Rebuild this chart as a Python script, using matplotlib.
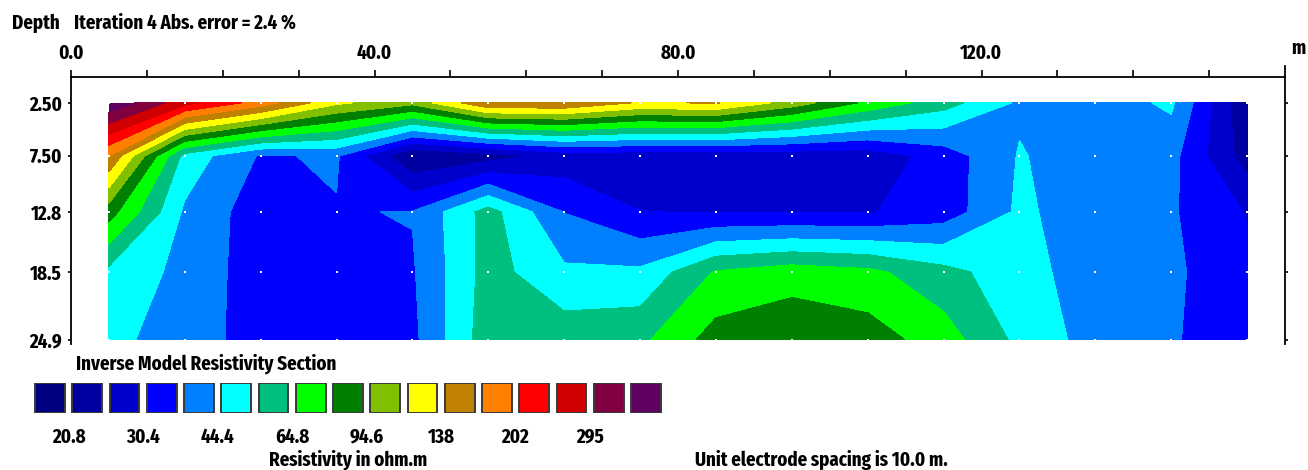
import numpy as np
import matplotlib
matplotlib.use("Agg")
import matplotlib.pyplot as plt
import matplotlib.font_manager as fm

# ---------------- data ----------------
x_pos = [5, 15, 25, 35, 45, 55, 65, 75, 85, 95, 105, 115, 125, 135, 145, 155]
depths = [2.5, 7.5, 12.8, 18.5, 24.9]
depth_labels = ["2.50", "7.50", "12.8", "18.5", "24.9"]

res_2_5 = [420, 260, 185, 118, 100, 165, 165, 135, 140, 105, 75, 58, 43, 40, 46, 21]
res_7_5 = [168, 50, 36, 37.5, 21, 23, 27, 27, 27, 27, 27, 33, 45, 40, 39, 23]
res_12_8 = [85, 43, 33, 36.3, 37, 58, 36.5, 30.5, 30, 30, 30, 33, 46, 40, 37.5, 30]
res_18_5 = [51, 42, 33, 33, 36, 58, 46, 46, 66, 72, 68, 57, 48, 40, 38, 32]
res_24_9 = [47, 40, 34, 33, 35, 60, 60, 62, 85, 90, 86, 71, 51, 41, 37.5, 32]

bounds = [20.8, 25.1, 30.4, 36.7, 44.4, 53.6, 64.8, 78.3, 94.6, 114, 138, 167, 202, 244, 295, 357]
bound_labels = ["20.8", "30.4", "44.4", "64.8", "94.6", "138", "202", "295"]
colors = ['#000080', '#0000A0', '#0000CC', '#0000FF', '#0080FF', '#00FFFF',
          '#00C080', '#00FF00', '#008000', '#80C000', '#FFFF00', '#C08000',
          '#FF8000', '#FF0000', '#D00000', '#800040', '#600060']

top_ticks = list(range(0, 160, 10))
top_labels = {0: "0.0", 40: "40.0", 80: "80.0", 120: "120.0"}
legend_title = "Inverse Model Resistivity Section"

# ---------------- font (narrowest bold-ish sans available) ----------------
def score(f):
    fn = f.fname.lower()
    s = 0
    if 'extracondensed' in fn:
        s += 40
    elif 'semicondensed' in fn:
        s += 20
    elif 'condensed' in fn or 'narrow' in fn:
        s += 30
    else:
        return -1
    if 'italic' in fn or 'oblique' in fn:
        return -1
    if fn.endswith('bold.ttf') or 'semibold' in fn or fn.endswith('-bold.ttf'):
        s += 5
    if 'black' in fn or 'extrabold' in fn or 'light' in fn or 'thin' in fn:
        s -= 10
    if 'mono' in fn:
        return -1
    return s

cands = sorted(fm.fontManager.ttflist, key=score, reverse=True)
if cands and score(cands[0]) > 0:
    FP = fm.FontProperties(fname=cands[0].fname)
else:
    FP = fm.FontProperties(family='DejaVu Sans Mono', weight='bold')

W, H = 1308, 470
fig = plt.figure(figsize=(W / 100, H / 100), dpi=100)

# choose size so the legend title spans about the same width as in the reference
renderer = fig.canvas.get_renderer()
probe = fig.text(0, 0, legend_title, fontproperties=FP, fontsize=10)
wpx = probe.get_window_extent(renderer).width
probe.remove()
FS = min(10 * 262 / wpx, 15.5)
FP.set_size(FS)

ax = fig.add_axes([71 / W, 1 - 344 / H, (1285 - 71) / W, (344 - 76.5) / H])
ax.set_xlim(0, 160)
ax.set_ylim(25.3, 0)

grid = np.array([res_2_5, res_7_5, res_12_8, res_18_5, res_24_9], dtype=float)
lev = np.log10([1.0] + bounds + [1e5])
ax.contourf(x_pos, depths, np.log10(grid), levels=lev, colors=colors, antialiased=False)

XX, ZZ = np.meshgrid(x_pos, depths)
ax.scatter(XX.ravel(), ZZ.ravel(), s=1.5, c='white', marker='s', linewidths=0, zorder=3)

ax.spines['bottom'].set_visible(False)
for s in ['top', 'left', 'right']:
    ax.spines[s].set_linewidth(1.3)
ax.spines['right'].set_bounds(25.3, -0.95)

ax.xaxis.set_ticks_position('top')
ax.set_xticks(top_ticks)
ax.set_xticklabels([top_labels.get(t, "") for t in top_ticks], fontproperties=FP)
ax.tick_params(axis='x', direction='out', length=5, width=1.2, pad=5)

ax.set_yticks(depths)
ax.set_yticklabels(depth_labels, fontproperties=FP)
ax.tick_params(axis='y', left=True, right=True, labelleft=True, labelright=False,
               direction='out', length=2.5, width=1.2, pad=4)

fig.text(12 / W, 1 - 23 / H, "Depth", fontproperties=FP, ha='left', va='center')
fig.text(74 / W, 1 - 23 / H, "Iteration 4 Abs. error = 2.4 %", fontproperties=FP,
         ha='left', va='center')
fig.text(1291 / W, 1 - 48 / H, "m", fontproperties=FP, ha='left', va='center')

# ---------------- legend ----------------
lax = fig.add_axes([31.5 / W, 1 - 413 / H, (664.5 - 31.5) / W, 30 / H])
lax.set_xlim(0, 17)
lax.set_ylim(0, 1)
lax.axis('off')
lax.bar(np.arange(len(colors)) + 0.5, 1, width=0.8, color=colors, edgecolor='#3a3a3a',
        linewidth=1.4)
for i, lab in enumerate(bound_labels):
    lax.text(2 * i + 1, -0.8, lab, ha='center', va='center', fontproperties=FP, clip_on=False)

fig.text(76 / W, 1 - 364 / H, legend_title, fontproperties=FP, ha='left', va='center')
fig.text(348 / W, 1 - 460 / H, "Resistivity in ohm.m", fontproperties=FP,
         ha='center', va='center')
fig.text(695 / W, 1 - 460 / H, "Unit electrode spacing is 10.0 m.", fontproperties=FP,
         ha='left', va='center')

fig.savefig("out.png", dpi=100)
